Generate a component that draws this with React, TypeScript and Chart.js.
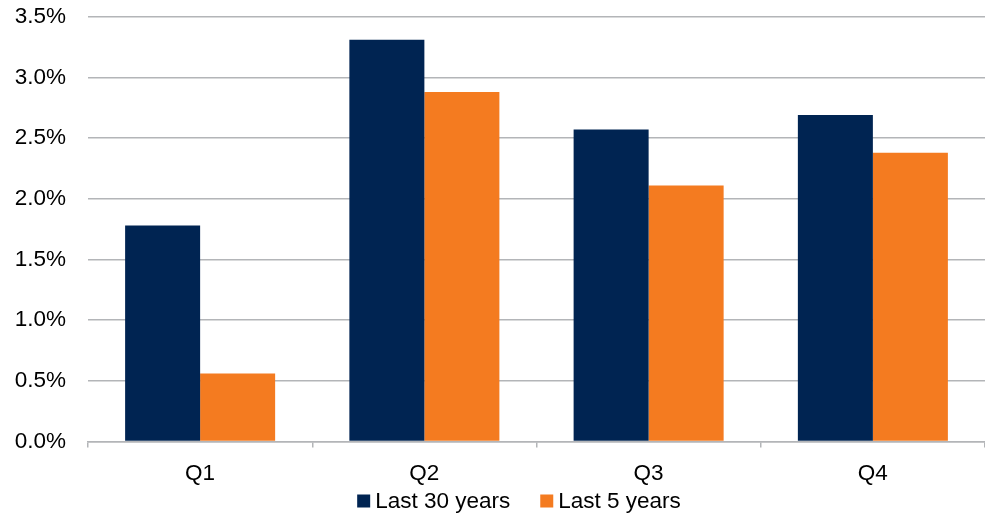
import React, { useEffect, useRef } from "react";
import { Chart, registerables } from "chart.js";

Chart.register(...registerables);

const categories = ["Q1", "Q2", "Q3", "Q4"];
const last30Years = [1.78, 3.31, 2.57, 2.69];
const last5Years = [0.56, 2.88, 2.11, 2.38];
const seriesLabels = ["Last 30 years", "Last 5 years"];
const seriesColors = ["#002452", "#F47B20"];
const yMin = 0;
const yMax = 3.5;
const yStep = 0.5;

const FONT = '"Liberation Sans", Arial, sans-serif';
const FONT_SIZE = 22.5;
const GRID = "#b3b5b8";

const customLegend = {
  id: "customLegend",
  afterDraw(chart: any) {
    const ctx = chart.ctx;
    const box = 13;
    const gap = 5;
    const itemGap = 30;
    const centerX = 519;
    const centerY = 502;
    ctx.save();
    ctx.font = `${FONT_SIZE}px ${FONT}`;
    ctx.textBaseline = "middle";
    ctx.textAlign = "left";
    const items = chart.data.datasets.map((d: any) => ({
      label: d.label,
      color: d.backgroundColor,
      w: box + gap + ctx.measureText(d.label).width,
    }));
    const total =
      items.reduce((s: number, it: any) => s + it.w, 0) + itemGap * (items.length - 1);
    let x = centerX - total / 2;
    for (const it of items) {
      ctx.fillStyle = it.color;
      ctx.fillRect(x, centerY - box / 2 - 1, box, box);
      ctx.fillStyle = "#000";
      ctx.fillText(it.label, x + box + gap, centerY);
      x += it.w + itemGap;
    }
    ctx.restore();
  },
};

export default function App() {
  const ref = useRef<HTMLCanvasElement>(null);
  useEffect(() => {
    if (!ref.current) return;
    const chart = new Chart(ref.current, {
      type: "bar",
      data: {
        labels: categories,
        datasets: [
          {
            label: seriesLabels[0],
            data: last30Years,
            backgroundColor: seriesColors[0],
            borderWidth: 0,
          },
          {
            label: seriesLabels[1],
            data: last5Years,
            backgroundColor: seriesColors[1],
            borderWidth: 0,
          },
        ],
      },
      options: {
        responsive: false,
        animation: false,
        layout: { padding: { top: 16.7, right: 0, bottom: 0, left: 0 } },
        datasets: {
          bar: { categoryPercentage: 0.669, barPercentage: 1 },
        },
        plugins: {
          legend: { display: false },
          tooltip: { enabled: false },
        },
        scales: {
          x: {
            grid: {
              display: true,
              drawOnChartArea: false,
              drawTicks: true,
              tickLength: 6,
              color: GRID,
              lineWidth: 1.5,
              offset: true,
            },
            border: { display: true, color: GRID, width: 1.5 },
            ticks: {
              color: "#000",
              font: { family: FONT, size: FONT_SIZE },
              padding: 13,
            },
            afterFit(scale: any) {
              scale.height = 515 - 441.6;
              scale.paddingLeft = 0;
              scale.paddingRight = 0;
            },
          },
          y: {
            min: yMin,
            max: yMax,
            grid: {
              color: GRID,
              lineWidth: 1.5,
              drawTicks: false,
            },
            border: { display: false },
            ticks: {
              stepSize: yStep,
              color: "#000",
              font: { family: FONT, size: FONT_SIZE },
              padding: 22,
              callback: (v: any) => Number(v).toFixed(1) + "%",
            },
            afterFit(scale: any) {
              scale.width = 88;
              scale.paddingTop = 0;
              scale.paddingBottom = 0;
            },
          },
        },
      },
      plugins: [customLegend],
    });
    return () => chart.destroy();
  }, []);
  return (
    <div style={{ position: "absolute", left: 0, top: 0, width: 985, height: 515, background: "#fff" }}>
      <canvas ref={ref} width={985} height={515} />
    </div>
  );
}
